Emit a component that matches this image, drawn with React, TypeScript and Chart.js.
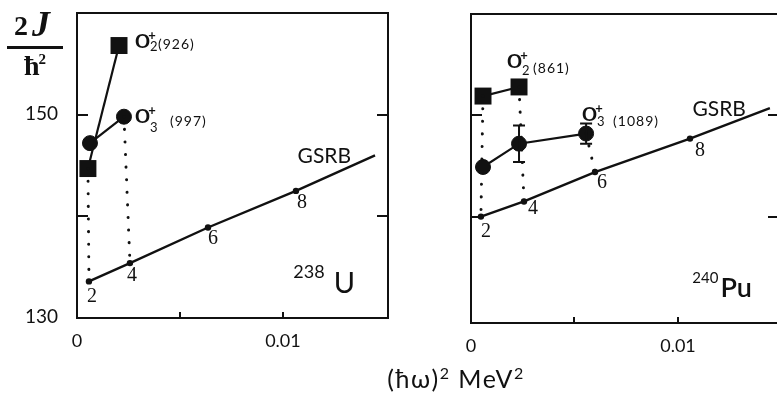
import React, { useEffect, useRef } from 'react';
import { Chart, registerables } from 'chart.js';

Chart.register(...registerables);

const INK = '#111111';

// ---------- 238U panel ----------
const uGsrbX = [0.00058, 0.00257, 0.00636, 0.01063, 0.01447];
const uGsrbY = [133.6, 135.4, 138.9, 142.5, 146.0];
const uSpins = ['2', '4', '6', '8', ''];
const uBand2X = [0.00053, 0.00204];
const uBand2Y = [144.7, 156.8];
const uBand3X = [0.00063, 0.00228];
const uBand3Y = [147.2, 149.8];
const uBand3Err = [0, 0];
const uBand2Energy = '(926)';
const uBand3Energy = '(997)';

// ---------- 240Pu panel ----------
const puGsrbX = [0.00048, 0.00256, 0.00599, 0.01058, 0.01444];
const puGsrbY = [140.0, 141.5, 144.4, 147.7, 150.7];
const puSpins = ['2', '4', '6', '8', ''];
const puBand2X = [0.00058, 0.00232];
const puBand2Y = [151.9, 152.8];
const puBand3X = [0.00058, 0.00232, 0.00556];
const puBand3Y = [144.9, 147.2, 148.2];
const puBand3Err = [0, 1.8, 1.0];
const puBand2Energy = '(861)';
const puBand3Energy = '(1089)';

// tick values
const xTickValues = [0.005, 0.01];
const yTickValues = [140, 150];
const yTickLabels = [130, 150];

type Link = [string, number, number];

interface Panel {
  id: string;
  canvasWidth: number;
  xMax: number;
  yMin: number;
  yMax: number;
  padTop: number;
  padRight: number;
  yAxisWidth: number;
  xAxisHeight: number;
  showYLabels: boolean;
  gX: number[];
  gY: number[];
  spins: string[];
  spinOff: number[][];
  b2X: number[];
  b2Y: number[];
  b3X: number[];
  b3Y: number[];
  b3Err: number[];
  links: Link[];
  b2Label: { idx: number; text: string; sub: string; dx: number; dy: number; subDy: number; eDx: number; eDy: number };
  b3Label: { idx: number; text: string; sub: string; dx: number; dy: number; subDy: number; eDx: number; eDy: number };
  mass: string;
  sym: string;
  massFont: string;
  symFont: string;
  nucRight: number;
  nucBottom: number;
  nucGap: number;
  massRise: number;
  titles: boolean;
}

const leftPanel: Panel = {
  id: 'u238',
  canvasWidth: 777,
  xMax: 0.0151,
  yMin: 130,
  yMax: 160,
  padTop: 13,
  padRight: 777 - 388,
  yAxisWidth: 77,
  xAxisHeight: 401 - 318,
  showYLabels: true,
  gX: uGsrbX,
  gY: uGsrbY,
  spins: uSpins,
  spinOff: [[3, 15], [2, 13], [5, 11], [6, 12]],
  b2X: uBand2X,
  b2Y: uBand2Y,
  b3X: uBand3X,
  b3Y: uBand3Y,
  b3Err: uBand3Err,
  links: [['b2', 0, 0], ['b3', 1, 1]],
  b2Label: { idx: 1, text: uBand2Energy, sub: '2', dx: 16, dy: 2, subDy: 3, eDx: 23, eDy: 1 },
  b3Label: { idx: 1, text: uBand3Energy, sub: '3', dx: 11, dy: 6, subDy: 9, eDx: 35, eDy: 3 },
  mass: '238',
  sym: 'U',
  massFont: '18px Lato',
  symFont: '29px Lato',
  nucRight: 33,
  nucBottom: 25,
  nucGap: 9,
  massRise: 15,
  titles: true,
};

const rightPanel: Panel = {
  id: 'pu240',
  canvasWidth: 800,
  xMax: 0.01488,
  yMin: 129.5,
  yMax: 160,
  padTop: 14,
  padRight: 800 - 779,
  yAxisWidth: 471,
  xAxisHeight: 401 - 323,
  showYLabels: false,
  gX: puGsrbX,
  gY: puGsrbY,
  spins: puSpins,
  spinOff: [[5, 15], [9, 7], [7, 11], [10, 12]],
  b2X: puBand2X,
  b2Y: puBand2Y,
  b3X: puBand3X,
  b3Y: puBand3Y,
  b3Err: puBand3Err,
  links: [['b2', 0, 0], ['b2', 1, 1], ['b3', 2, 2]],
  b2Label: { idx: 1, text: puBand2Energy, sub: '2', dx: -12, dy: -19, subDy: 7, eDx: 26, eDy: 5 },
  b3Label: { idx: 2, text: puBand3Energy, sub: '3', dx: -4, dy: -13, subDy: 5, eDx: 31, eDy: 5 },
  mass: '240',
  sym: 'Pu',
  massFont: '15px Lato',
  symFont: '600 27px Lato',
  nucRight: 27,
  nucBottom: 26,
  nucGap: 2,
  massRise: 14,
  titles: false,
};

function drawBandLabel(ctx: CanvasRenderingContext2D, x: number, y: number, l: Panel['b2Label']) {
  ctx.textAlign = 'left';
  ctx.textBaseline = 'alphabetic';
  ctx.font = '600 20px Lato';
  ctx.save();
  ctx.translate(x, y);
  ctx.scale(1.3, 1);
  ctx.fillText('0', 0, 0);
  ctx.restore();
  ctx.font = 'bold 13px Lato';
  ctx.textAlign = 'center';
  ctx.textBaseline = 'middle';
  ctx.fillText('+', x + 17, y - 12);
  ctx.textAlign = 'left';
  ctx.textBaseline = 'alphabetic';
  ctx.font = '13px Lato';
  ctx.fillText(l.sub, x + 15, y + l.subDy);
  ctx.font = '14px Lato';
  (ctx as any).letterSpacing = '1px';
  ctx.fillText(l.text, x + l.eDx, y + l.eDy);
  (ctx as any).letterSpacing = '0px';
}

function drawSup(ctx: CanvasRenderingContext2D, parts: { t: string; font: string; rise: number }[], cx: number, base: number) {
  let total = 0;
  parts.forEach((p) => {
    ctx.font = p.font;
    total += ctx.measureText(p.t).width;
  });
  let x = cx - total / 2;
  ctx.textAlign = 'left';
  ctx.textBaseline = 'alphabetic';
  parts.forEach((p) => {
    ctx.font = p.font;
    ctx.fillText(p.t, x, base - p.rise);
    x += ctx.measureText(p.t).width;
  });
}

function decorPlugin(p: Panel) {
  return {
    id: 'decor_' + p.id,
    afterDatasetsDraw(chart: any) {
      const ctx: CanvasRenderingContext2D = chart.ctx;
      const { left, right, top, bottom } = chart.chartArea;
      const xs = chart.scales.x;
      const ys = chart.scales.y;
      ctx.save();
      ctx.strokeStyle = INK;
      ctx.fillStyle = INK;
      ctx.lineWidth = 2;
      // frame
      ctx.strokeRect(left, top, right - left, bottom - top);
      // inward ticks
      ctx.beginPath();
      yTickValues.forEach((v) => {
        const py = Math.round(ys.getPixelForValue(v));
        ctx.moveTo(left, py);
        ctx.lineTo(left + 11, py);
        ctx.moveTo(right, py);
        ctx.lineTo(right - 11, py);
      });
      xTickValues.forEach((v) => {
        const px = Math.round(xs.getPixelForValue(v));
        ctx.moveTo(px, bottom);
        ctx.lineTo(px, bottom - 6);
      });
      ctx.stroke();
      // error bars
      ctx.lineWidth = 2;
      p.b3Err.forEach((e, i) => {
        if (!e) return;
        const px = xs.getPixelForValue(p.b3X[i]);
        const y1 = ys.getPixelForValue(p.b3Y[i] + e);
        const y2 = ys.getPixelForValue(p.b3Y[i] - e);
        ctx.beginPath();
        ctx.moveTo(px, y1);
        ctx.lineTo(px, y2);
        ctx.moveTo(px - 6, y1);
        ctx.lineTo(px + 6, y1);
        ctx.moveTo(px - 6, y2);
        ctx.lineTo(px + 6, y2);
        ctx.stroke();
      });
      // spin labels
      ctx.font = '20px "Liberation Serif"';
      ctx.textAlign = 'center';
      ctx.textBaseline = 'middle';
      p.spins.forEach((s, i) => {
        if (!s) return;
        const px = xs.getPixelForValue(p.gX[i]);
        const py = ys.getPixelForValue(p.gY[i]);
        ctx.fillText(s, px + p.spinOff[i][0], py + p.spinOff[i][1]);
      });
      // GSRB label
      const last = p.gX.length - 1;
      const ex = xs.getPixelForValue(p.gX[last]);
      const ey = ys.getPixelForValue(p.gY[last]);
      ctx.font = '21px Lato';
      ctx.textAlign = 'right';
      ctx.textBaseline = 'alphabetic';
      ctx.fillText('GSRB', ex - 24, ey + 8);
      // band labels
      {
        const l = p.b2Label;
        const px = xs.getPixelForValue(p.b2X[l.idx]);
        const py = ys.getPixelForValue(p.b2Y[l.idx]);
        drawBandLabel(ctx, px + l.dx, py + l.dy, l);
      }
      {
        const l = p.b3Label;
        const px = xs.getPixelForValue(p.b3X[l.idx]);
        const py = ys.getPixelForValue(p.b3Y[l.idx]);
        drawBandLabel(ctx, px + l.dx, py + l.dy, l);
      }
      // nucleus label
      ctx.textAlign = 'right';
      ctx.textBaseline = 'alphabetic';
      ctx.font = p.symFont;
      const symX = right - p.nucRight;
      const symY = bottom - p.nucBottom;
      ctx.fillText(p.sym, symX, symY);
      const symW = ctx.measureText(p.sym).width;
      ctx.font = p.massFont;
      ctx.fillText(p.mass, symX - symW - p.nucGap, symY - p.massRise);
      // y tick labels
      if (p.showYLabels) {
        ctx.font = '19px Lato';
        ctx.textAlign = 'right';
        ctx.textBaseline = 'middle';
        yTickLabels.forEach((v) => {
          ctx.fillText(String(v), left - 19, ys.getPixelForValue(v) - 1);
        });
      }
      if (p.titles) {
        // y title 2J / hbar^2
        ctx.textAlign = 'left';
        ctx.textBaseline = 'alphabetic';
        ctx.font = 'bold 28px "Liberation Serif"';
        ctx.fillText('2', 14, 35);
        const w2 = ctx.measureText('2').width;
        ctx.font = 'bold italic 36px "Liberation Serif"';
        ctx.fillText('J', 14 + w2 + 4, 36);
        ctx.fillRect(7, 46, 56, 3);
        ctx.font = 'bold 28px "Liberation Serif"';
        ctx.fillText('ħ', 24, 75);
        const wh = ctx.measureText('ħ').width;
        ctx.font = 'bold 15px "Liberation Serif"';
        ctx.fillText('2', 24 + wh - 1, 64);
        // x title
        (ctx as any).letterSpacing = '1.5px';
        drawSup(
          ctx,
          [
            { t: '(ħω)', font: '25px Lato', rise: 0 },
            { t: '2', font: '16px Lato', rise: 9 },
            { t: ' MeV', font: '25px Lato', rise: 0 },
            { t: '2', font: '16px Lato', rise: 9 },
          ],
          456,
          388
        );
        (ctx as any).letterSpacing = '0px';
      }
      ctx.restore();
    },
  };
}

function buildConfig(p: Panel): any {
  const pts = (xs: number[], ys: number[]) => xs.map((x, i) => ({ x, y: ys[i] }));
  const datasets: any[] = [];
  p.links.forEach(([band, bi, gi]) => {
    const bx = band === 'b2' ? p.b2X : p.b3X;
    const by = band === 'b2' ? p.b2Y : p.b3Y;
    datasets.push({
      label: 'link',
      data: [
        { x: bx[bi], y: by[bi] },
        { x: p.gX[gi], y: p.gY[gi] },
      ],
      showLine: true,
      borderColor: INK,
      borderWidth: 3,
      borderDash: [0.1, 12.5],
      borderCapStyle: 'round',
      pointRadius: 0,
    });
  });
  datasets.push({
    label: 'GSRB',
    data: pts(p.gX, p.gY),
    showLine: true,
    borderColor: INK,
    borderWidth: 2.4,
    pointRadius: p.spins.map((s) => (s ? 3.2 : 0)),
    pointBackgroundColor: INK,
    pointBorderWidth: 0,
  });
  datasets.push({
    label: '0+2',
    data: pts(p.b2X, p.b2Y),
    showLine: true,
    borderColor: INK,
    borderWidth: 2.2,
    pointStyle: 'rect',
    pointRadius: 12,
    pointBackgroundColor: INK,
    pointBorderColor: INK,
    pointBorderWidth: 0,
  });
  datasets.push({
    label: '0+3',
    data: pts(p.b3X, p.b3Y),
    showLine: true,
    borderColor: INK,
    borderWidth: 2.2,
    pointStyle: 'circle',
    pointRadius: 7.5,
    pointBackgroundColor: INK,
    pointBorderColor: INK,
    pointBorderWidth: 1,
  });

  return {
    type: 'scatter',
    data: { datasets },
    options: {
      animation: false,
      responsive: false,
      maintainAspectRatio: false,
      events: [],
      layout: { padding: { left: 0, top: p.padTop, right: p.padRight, bottom: 0 } },
      plugins: { legend: { display: false }, tooltip: { enabled: false } },
      scales: {
        x: {
          type: 'linear',
          min: 0,
          max: p.xMax,
          afterFit: (s: any) => {
            s.height = p.xAxisHeight;
          },
          grid: { display: false, drawTicks: false },
          border: { display: false },
          ticks: {
            stepSize: 0.005,
            includeBounds: false,
            autoSkip: false,
            maxRotation: 0,
            padding: 12,
            color: INK,
            font: { family: 'Lato', size: 18 },
            callback: (v: number) =>
              Math.abs(v) < 1e-9 ? '0' : Math.abs(v - 0.01) < 1e-9 ? '0.01' : '',
          },
        },
        y: {
          type: 'linear',
          min: p.yMin,
          max: p.yMax,
          afterFit: (s: any) => {
            s.width = p.yAxisWidth;
          },
          grid: { display: false, drawTicks: false },
          border: { display: false },
          ticks: { display: false, stepSize: 10 },
        },
      },
    },
    plugins: [decorPlugin(p)],
  };
}

function PanelCanvas({ panel }: { panel: Panel }) {
  const ref = useRef<HTMLCanvasElement | null>(null);
  useEffect(() => {
    if (!ref.current) return;
    const chart = new Chart(ref.current, buildConfig(panel));
    return () => chart.destroy();
  }, [panel]);
  return (
    <canvas
      ref={ref}
      width={panel.canvasWidth}
      height={401}
      style={{ position: 'absolute', left: 0, top: 0, width: panel.canvasWidth, height: 401 }}
    />
  );
}

export default function App() {
  return (
    <div
      style={{
        position: 'fixed',
        left: 0,
        top: 0,
        width: 777,
        height: 401,
        overflow: 'hidden',
        background: '#ffffff',
      }}
    >
      <PanelCanvas panel={leftPanel} />
      <PanelCanvas panel={rightPanel} />
    </div>
  );
}
